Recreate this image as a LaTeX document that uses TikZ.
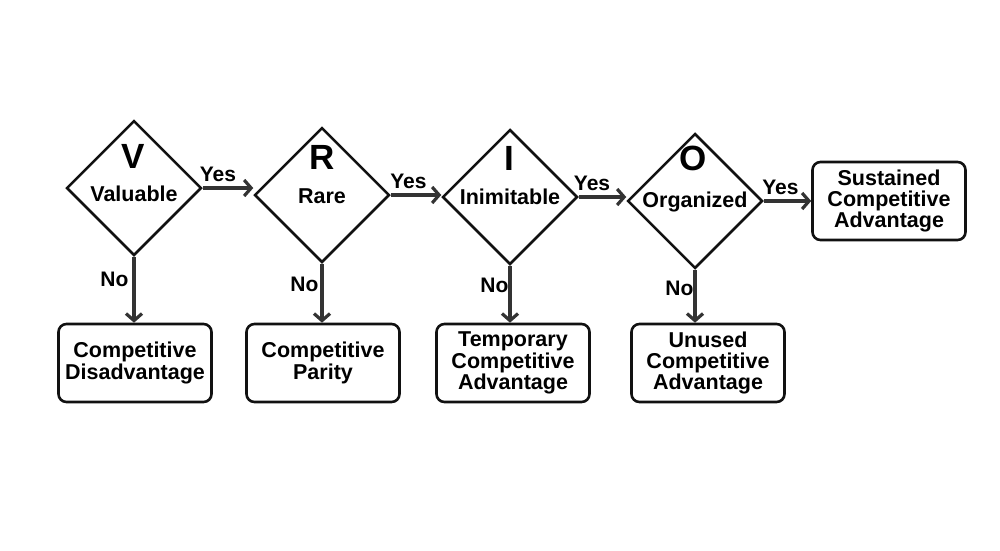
\documentclass[tikz,border=0pt]{standalone}
\usepackage{fontspec}
\setmainfont{Liberation Sans}
\usetikzlibrary{shapes.geometric,arrows.meta}
\definecolor{ink}{HTML}{111111}
\definecolor{arr}{HTML}{333333}
\begin{document}
\begin{tikzpicture}[x=1pt,y=-1pt,
  dia/.style={diamond,draw=ink,line width=2.5pt,minimum width=135pt,minimum height=135pt,inner sep=0pt,fill=white},
  res/.style={draw=ink,line width=2.6pt,rounded corners=8pt,minimum width=153pt,minimum height=78pt,align=center,
     font=\fontsize{21.5}{21.2}\selectfont\bfseries,inner sep=2pt},
  big/.style={font=\fontsize{35}{35}\selectfont\bfseries,inner sep=0pt},
  lab/.style={font=\fontsize{21.5}{21.5}\selectfont\bfseries,inner sep=0pt},
  yn/.style={font=\fontsize{21}{21}\selectfont\bfseries,inner sep=2pt},
  flow/.style={draw=arr,line width=3.2pt,-{Straight Barb[length=7pt,width=16pt,line width=3.2pt]}}]
\useasboundingbox[fill=white] (0,0) rectangle (1000,550);

\node[dia] (v) at (134,188) {};
\node[dia] (r) at (322,195) {};
\node[dia] (i) at (510,197) {};
\node[dia] (o) at (695,201) {};

\node[big] (vl) at (133,156) {V};
\node[big] (rl) at (322,157) {R};
\node[big] (il) at (509,158) {I};
\node[big] (ol) at (693,158) {O};

\node[lab] (vt) at (134,194) {Valuable};
\node[lab] (rt) at (322,196) {Rare};
\node[lab] (it) at (510,197) {Inimitable};
\node[lab] (ot) at (695,202) {Organized};

\node[res] (cd) at (135,363) {Competitive\\Disadvantage};
\node[res] (cp) at (323,363) {Competitive\\Parity};
\node[res] (tc) at (513,363) {Temporary\\Competitive\\Advantage};
\node[res] (uc) at (708,363) {Unused\\Competitive\\Advantage};
\node[res] (sc) at (889,201) {Sustained\\Competitive\\Advantage};

\draw[flow] (v.east) -- node[yn,above,pos=0.3,yshift=3pt] {Yes} (v.east -| r.west);
\draw[flow] (r.east) -- node[yn,above,pos=0.35,yshift=3pt] {Yes} (r.east -| i.west);
\draw[flow] (i.east) -- node[yn,above,pos=0.28,yshift=3pt] {Yes} (i.east -| o.west);
\draw[flow] (o.east) -- node[yn,above,pos=0.35,yshift=3pt] {Yes} (o.east -| sc.west);

\draw[flow] (v.south) -- node[yn,left,pos=0.35,xshift=-2pt] {No} (v.south |- cd.north);
\draw[flow] (r.south) -- node[yn,left,pos=0.35,xshift=0pt] {No} (r.south |- cp.north);
\draw[flow] (i.south) -- node[yn,left,pos=0.35,xshift=2pt] {No} (i.south |- tc.north);
\draw[flow] (o.south) -- node[yn,left,pos=0.35,xshift=2pt] {No} (o.south |- uc.north);
\end{tikzpicture}
\end{document}
